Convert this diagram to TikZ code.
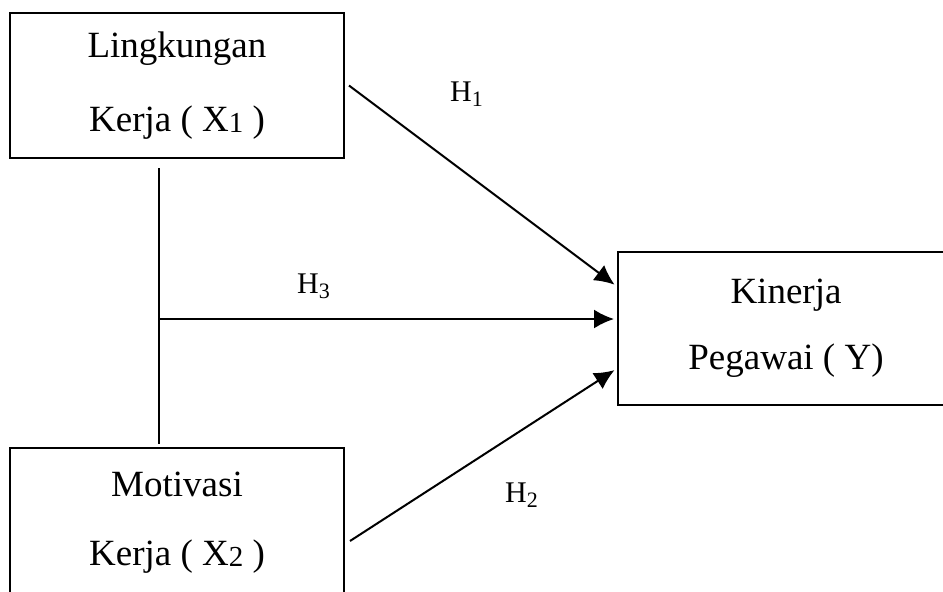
\documentclass[tikz,border=0pt]{standalone}
\usepackage{fontspec}
\setmainfont{Liberation Serif}
\usepackage{tikz}
\usetikzlibrary{arrows.meta,positioning}
\newcommand{\xidx}[1]{\raisebox{-1pt}{\fontsize{29}{29}\selectfont #1}}
\newcommand{\hidx}[1]{\raisebox{-5pt}{\fontsize{22}{22}\selectfont #1}}
\tikzstyle{var} = [rectangle, draw=black, line width=2pt, inner sep=0pt, align=center, text=black, font=\fontsize{37}{70}\selectfont]
\tikzstyle{hyp} = [anchor=base west, inner sep=0pt, font=\fontsize{30}{36}\selectfont]
\tikzstyle{tedge} = [draw, line width=2pt, -{Latex[length=20pt,width=19pt]}, shorten >=3pt]
\tikzstyle{tline} = [draw, line width=1.8pt]

\begin{document}
\begin{tikzpicture}[x=1pt, y=-1pt]
\useasboundingbox (0,0) rectangle (943,592);

% variables =============================
\node[var, minimum width=334pt, minimum height=145pt] (x1) at (177,85.5) {Lingkungan\\[4pt]Kerja ( X\xidx{1} )};
\node[var, minimum width=334pt, minimum height=150pt, below=288pt of x1] (x2) {Motivasi\\[-1pt]Kerja ( X\xidx{2} )};
\node[var, minimum width=326pt, minimum height=153pt, below right=92pt and 272pt of x1] (y) {\hspace*{10pt}Kinerja\\[-4pt]\hspace*{10pt}Pegawai ( Y)};

% hypotheses
\node[hyp] (h1) at (450,101) {H\hidx{1}};
\node[hyp] (h3) at (297,293) {H\hidx{3}};
\node[hyp] (h2) at (505,502) {H\hidx{2}};

% joint of X1 and X2
\coordinate (top) at ([xshift=-18pt,yshift=-9pt]x1.south);
\coordinate (bot) at ([xshift=-18pt,yshift=3pt]x2.north);
\coordinate (j) at (159,319);

%edges
\path[tline] (top) -- (bot);
\path[tedge] ([xshift=4pt]x1.east) -- ([yshift=42pt]y.west);
\path[tedge] (j) -- (j -| y.west);
\path[tedge] ([xshift=5pt,yshift=-18pt]x2.east) -- ([yshift=-40pt]y.west);

\end{tikzpicture}
\end{document}
